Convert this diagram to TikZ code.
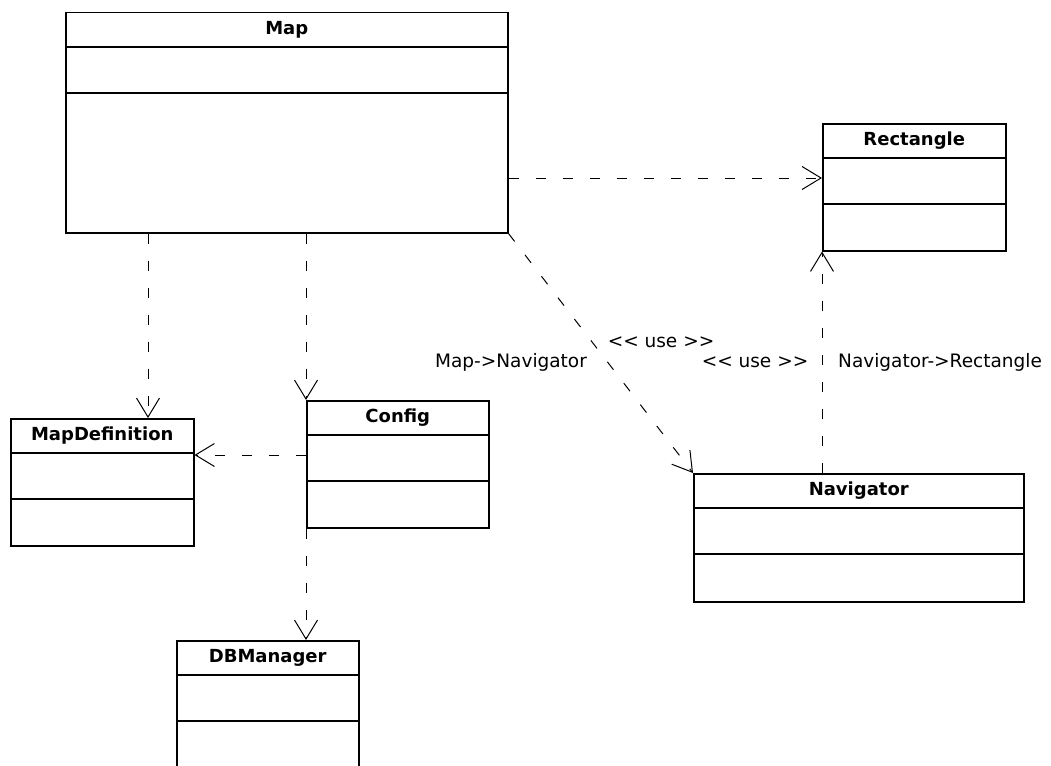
\documentclass[tikz,border=0pt]{standalone}
\usepackage{fontspec}
\setmainfont{DejaVu Sans}
\usetikzlibrary{arrows.meta,calc}

\tikzset{
  classbox/.style={draw, line width=1.5pt, anchor=north west, inner sep=0pt, fill=white},
  boxline/.style={line width=1.5pt},
  classtitle/.style={font=\fontsize{18}{21}\selectfont\bfseries, inner sep=0pt},
  deplabel/.style={font=\fontsize{18.5}{22}\selectfont, inner sep=0pt},
  dependency/.style={line width=1pt, dash pattern=on 10pt off 17pt,
    -{Straight Barb[length=19pt,width=23pt,line width=1pt]}}
}

% a UML class: name, left x, top y, width, height, title
\newcommand\umlclass[6]{%
  \node[classbox, minimum width=#4pt, minimum height=#5pt] (#1) at (#2,#3) {};
  \draw[boxline] ($(#1.north west)+(0,35)$) -- ($(#1.north east)+(0,35)$);
  \draw[boxline] ($(#1.north west)+(0,81)$) -- ($(#1.north east)+(0,81)$);
  \node[classtitle] at ($(#1.north)+(0,17.5)$) {#6};
}
% stereotype brackets, kept as separate angle characters
\newcommand\lguil{\symbol{60}\symbol{60}}
\newcommand\rguil{\symbol{62}\symbol{62}}

\begin{document}
\begin{tikzpicture}[x=1pt, y=-1pt]
  \useasboundingbox (0,0) rectangle (1051,765);
  \fill[white] (0,0) rectangle (1051,765);
  \clip (0,0) rectangle (1051,765);

  \umlclass{map}{65}{12}{442}{220}{Map}
  \umlclass{rect}{822}{123}{183}{127}{Rectangle}
  \umlclass{nav}{693}{473}{330}{128}{Navigator}
  \umlclass{mapdef}{10}{418}{183}{127}{MapDefinition}
  \umlclass{config}{306}{400}{182}{127}{Config}
  \umlclass{dbm}{176}{640}{182}{160}{DBManager}

  % dependencies
  \coordinate (mapR) at ($(map.north east)+(0,166)$);
  \draw[dependency] (mapR) -- (mapR -| rect.west);

  \coordinate (mapB1) at ($(map.south west)+(83,0)$);
  \draw[dependency] (mapB1) -- (mapB1 |- mapdef.north);

  \coordinate (mapB2) at (map.south west -| config.north west);
  \draw[dependency] (mapB2) -- (config.north west);

  \draw[dependency] (map.south east) -- (nav.north west);

  \draw[dependency] (rect.south west |- nav.north) -- (rect.south west);

  \coordinate (cfgL) at ($(config.north west)+(0,55)$);
  \draw[dependency] (cfgL) -- (cfgL -| mapdef.east);

  \draw[dependency] (config.south west) -- (config.south west |- dbm.north);

  % labels
  \node[deplabel] (use1) at (661,342) {\lguil{} use \rguil};
  \node[deplabel] (lblMN) at (511,362) {Map-\symbol{62}Navigator};
  \node[deplabel] (use2) at (755,362) {\lguil{} use \rguil};
  \node[deplabel] (lblNR) at (940,362) {Navigator-\symbol{62}Rectangle};
\end{tikzpicture}
\end{document}
